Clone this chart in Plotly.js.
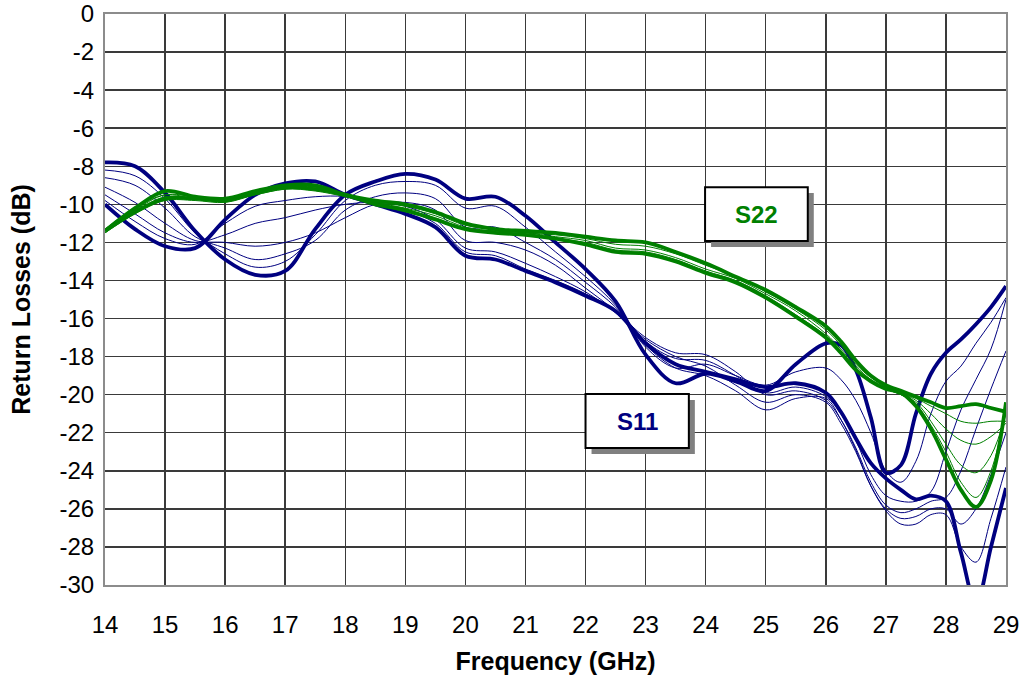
<!DOCTYPE html>
<html>
<head>
<meta charset="utf-8">
<script src="https://cdn.plot.ly/plotly-3.0.1.min.js"></script>
<style>html,body{margin:0;padding:0;background:#fff;}#chart{width:1024px;height:684px;}</style>
</head>
<body>
<div id="chart"></div>
<script>
// Frequency grid (GHz)
var freq = [14,14.5,15,15.5,16,16.5,17,17.5,18,18.5,19,19.5,20,20.5,21,21.5,22,22.5,23,23.5,24,24.5,25,25.5,26,26.25,26.5,26.75,27,27.25,27.5,27.75,28,28.25,28.5,28.75,29];

// S11 curves (dB) - thick bundles
var s11A = [-7.8,-8.0,-9.4,-11.4,-12.9,-13.7,-13.5,-11.3,-9.5,-8.8,-8.4,-8.7,-9.7,-9.6,-10.6,-12.0,-13.4,-15.1,-17.9,-19.4,-18.9,-19.3,-19.8,-18.4,-17.3,-17.4,-18.7,-21.2,-24.1,-23.7,-21.0,-18.9,-17.8,-17.1,-16.3,-15.4,-14.3];
var s11B = [-10.0,-11.3,-12.2,-12.3,-10.8,-9.5,-8.9,-8.8,-9.5,-10.0,-10.5,-11.2,-12.7,-12.9,-13.5,-14.1,-14.8,-15.6,-17.3,-18.4,-18.8,-19.2,-19.6,-19.4,-19.9,-20.9,-22.3,-23.6,-24.4,-25.0,-25.5,-25.3,-25.6,-28.3,-31.0,-28.0,-24.9];
// S11 curves (dB) - thin lines
var s11T1 = [-8.2,-8.5,-9.7,-11.5,-12.6,-13.3,-13.0,-11.6,-9.8,-9.0,-8.8,-9.0,-10.2,-10.1,-11.2,-12.5,-13.8,-15.3,-17.5,-18.6,-18.4,-19.0,-19.5,-18.8,-18.6,-19.2,-20.3,-22.0,-24.0,-24.6,-23.5,-21.0,-19.3,-18.5,-17.3,-16.2,-14.9];
var s11T2 = [-8.6,-9.0,-10.2,-11.7,-12.3,-12.9,-12.6,-11.9,-10.3,-9.6,-9.4,-9.7,-11.2,-11.2,-12.0,-12.9,-14.1,-15.4,-17.2,-18.1,-18.2,-19.0,-19.9,-19.6,-20.1,-21.0,-22.4,-24.2,-25.3,-25.6,-25.6,-25.1,-23.0,-20.8,-19.2,-17.6,-15.0];
var s11T3 = [-9.1,-9.9,-11.0,-11.9,-12.0,-12.2,-12.0,-11.5,-10.7,-10.0,-9.9,-10.3,-11.9,-12.0,-12.4,-13.2,-14.4,-15.6,-17.0,-17.8,-17.9,-18.8,-20.0,-19.8,-20.3,-21.3,-22.8,-24.6,-25.8,-26.2,-26.0,-25.6,-25.4,-24.0,-21.8,-19.7,-17.7];
var s11T4 = [-9.5,-10.5,-11.5,-12.0,-11.6,-11.0,-10.7,-10.3,-10.0,-9.9,-10.1,-10.8,-12.3,-12.5,-13.1,-13.8,-14.6,-15.7,-17.1,-18.0,-18.5,-19.5,-20.4,-20.0,-20.4,-21.5,-23.0,-24.8,-26.0,-26.5,-26.4,-26.0,-26.0,-26.8,-26.0,-24.2,-22.0];
var s11T5 = [-9.8,-10.9,-11.8,-12.1,-11.0,-10.1,-9.8,-9.6,-9.6,-10.0,-10.3,-11.0,-12.5,-12.7,-13.4,-14.0,-14.7,-15.6,-17.4,-18.6,-19.0,-19.8,-20.8,-20.2,-20.2,-21.3,-22.9,-24.8,-26.1,-26.8,-26.8,-26.3,-26.3,-28.0,-28.8,-26.5,-23.8];

// S22 curves (dB) - thick bundles
var s22G1 = [-11.4,-10.2,-9.3,-9.6,-9.7,-9.3,-9.0,-9.0,-9.5,-9.8,-10.0,-10.4,-11.0,-11.3,-11.4,-11.5,-11.7,-11.9,-12.0,-12.5,-13.1,-13.8,-14.5,-15.4,-16.4,-17.2,-18.2,-19.0,-19.5,-19.8,-20.1,-20.4,-20.7,-20.6,-20.5,-20.7,-20.9];
var s22G2 = [-11.4,-10.4,-9.7,-9.7,-9.8,-9.4,-9.1,-9.2,-9.5,-10.0,-10.3,-10.8,-11.3,-11.5,-11.6,-11.8,-12.1,-12.5,-12.6,-13.0,-13.6,-14.1,-14.9,-15.9,-17.0,-17.8,-18.7,-19.3,-19.7,-19.9,-20.6,-21.8,-23.4,-25.0,-25.9,-24.5,-20.4];
// S22 curves (dB) - thin lines
var s22G3 = [-11.4,-10.3,-9.5,-9.6,-9.7,-9.3,-9.0,-9.1,-9.5,-9.9,-10.1,-10.5,-11.1,-11.3,-11.5,-11.6,-11.8,-12.1,-12.2,-12.6,-13.2,-13.8,-14.6,-15.5,-16.6,-17.4,-18.4,-19.1,-19.6,-19.9,-20.2,-20.6,-21.0,-21.4,-21.5,-21.4,-21.4];
var s22G4 = [-11.3,-10.2,-9.5,-9.7,-9.8,-9.4,-9.1,-9.1,-9.5,-9.9,-10.2,-10.6,-11.2,-11.4,-11.5,-11.7,-11.9,-12.3,-12.4,-12.8,-13.4,-13.9,-14.7,-15.6,-16.8,-17.6,-18.5,-19.2,-19.6,-19.9,-20.3,-21.0,-21.8,-22.4,-22.6,-22.2,-21.5];
var s22G5 = [-11.4,-10.4,-9.6,-9.7,-9.8,-9.5,-9.2,-9.2,-9.5,-10.0,-10.3,-10.7,-11.3,-11.4,-11.6,-11.8,-12.0,-12.4,-12.5,-12.9,-13.5,-14.0,-14.8,-15.8,-16.9,-17.7,-18.6,-19.3,-19.7,-20.0,-20.4,-21.4,-22.6,-23.7,-24.1,-23.2,-21.0];
var s22G6 = [-11.5,-10.5,-9.8,-9.8,-9.9,-9.5,-9.2,-9.3,-9.6,-10.0,-10.4,-10.8,-11.3,-11.5,-11.6,-11.8,-12.1,-12.5,-12.6,-13.0,-13.6,-14.1,-14.9,-15.9,-17.0,-17.8,-18.7,-19.3,-19.7,-20.0,-20.5,-21.6,-23.0,-24.6,-25.4,-24.0,-20.7];

var xTicks = [14,15,16,17,18,19,20,21,22,23,24,25,26,27,28,29];
var yTicks = [0,-2,-4,-6,-8,-10,-12,-14,-16,-18,-20,-22,-24,-26,-28,-30];
var labelS11 = 'S11';
var labelS22 = 'S22';

var NAVY = '#000080', GREEN = '#008000';
var FONT = 'Liberation Sans, Arial, sans-serif';

function tr(y, color, w) {
  return {x: freq, y: y, type: 'scatter', mode: 'lines',
          line: {color: color, width: w, shape: 'spline', smoothing: 1.0},
          hoverinfo: 'skip', showlegend: false};
}

var data = [
  tr(s11T1, NAVY, 1), tr(s11T2, NAVY, 1), tr(s11T3, NAVY, 1), tr(s11T4, NAVY, 1), tr(s11T5, NAVY, 1),
  tr(s11A, NAVY, 3.8), tr(s11B, NAVY, 3.8),
  tr(s22G3, GREEN, 1), tr(s22G4, GREEN, 1), tr(s22G5, GREEN, 1), tr(s22G6, GREEN, 1),
  tr(s22G1, GREEN, 3.8), tr(s22G2, GREEN, 3.8)
];

var layout = {
  width: 1024, height: 684,
  margin: {l: 105, r: 18, t: 14, b: 99},
  paper_bgcolor: '#ffffff', plot_bgcolor: '#ffffff',
  font: {family: FONT, color: '#000'},
  xaxis: {
    range: [14, 29], tickvals: xTicks, ticktext: xTicks.map(String),
    showgrid: true, gridcolor: '#3a3a3a', gridwidth: 1.5, zeroline: false,
    showline: true, mirror: true, linecolor: '#8c8c8c', linewidth: 2,
    ticks: '', ticklabelstandoff: 17,
    tickfont: {family: FONT, size: 24, color: '#000'},
    title: {text: '<b>Frequency (GHz)</b>', font: {family: FONT, size: 25, color: '#000'}, standoff: 16}
  },
  yaxis: {
    range: [-30, 0], tickvals: yTicks, ticktext: yTicks.map(String),
    showgrid: true, gridcolor: '#3a3a3a', gridwidth: 1.5, zeroline: false,
    showline: true, mirror: true, linecolor: '#8c8c8c', linewidth: 2,
    ticks: '', ticklabelstandoff: 4,
    tickfont: {family: FONT, size: 24, color: '#000'},
    title: {text: '<b>Return Losses (dB)</b>', font: {family: FONT, size: 25, color: '#000'}, standoff: 22}
  },
  shapes: [
    {type: 'rect', xref: 'x', yref: 'y', x0: 24.09, x1: 25.80, y0: -9.41, y1: -12.24, fillcolor: '#808080', line: {width: 0}, layer: 'above'},
    {type: 'rect', xref: 'x', yref: 'y', x0: 23.99, x1: 25.70, y0: -9.10, y1: -11.93, fillcolor: '#ffffff', line: {color: '#000', width: 2}, layer: 'above'},
    {type: 'rect', xref: 'x', yref: 'y', x0: 22.10, x1: 23.82, y0: -20.28, y1: -23.12, fillcolor: '#808080', line: {width: 0}, layer: 'above'},
    {type: 'rect', xref: 'x', yref: 'y', x0: 22.00, x1: 23.72, y0: -19.97, y1: -22.80, fillcolor: '#ffffff', line: {color: '#000', width: 2}, layer: 'above'}
  ],
  annotations: [
    {x: 24.845, y: -10.52, xref: 'x', yref: 'y', text: '<b>' + labelS22 + '</b>', showarrow: false,
     font: {family: FONT, size: 24, color: GREEN}},
    {x: 22.86, y: -21.39, xref: 'x', yref: 'y', text: '<b>' + labelS11 + '</b>', showarrow: false,
     font: {family: FONT, size: 24, color: NAVY}}
  ]
};

Plotly.newPlot('chart', data, layout, {staticPlot: true, displayModeBar: false});
</script>
</body>
</html>
